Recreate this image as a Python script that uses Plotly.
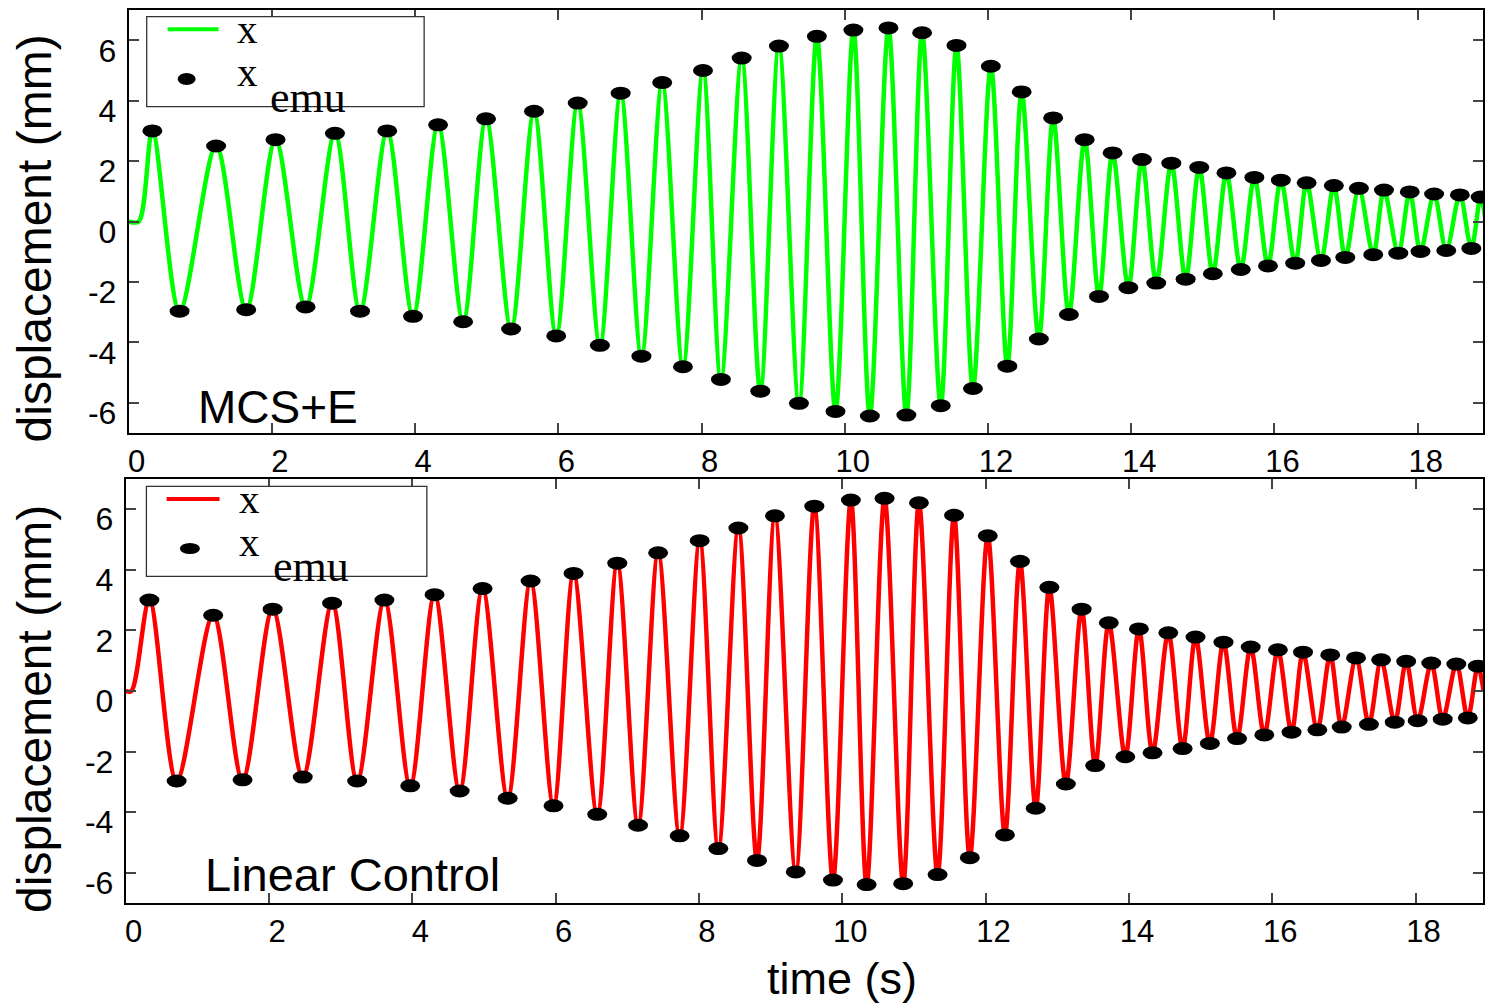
import plotly.graph_objects as go

W, H = 1485, 1003

# ---------------- data ----------------
# Top panel (MCS+E): peak / trough times (s) and displacements (mm)
top_peak_t = [0.33, 1.22, 2.05, 2.88, 3.61, 4.32, 4.99, 5.66, 6.27, 6.87, 7.45, 8.02, 8.56,
              9.08, 9.61, 10.12, 10.61, 11.08, 11.56, 12.04, 12.47, 12.91, 13.35, 13.74,
              14.15, 14.56, 14.95, 15.33, 15.72, 16.09, 16.45, 16.83, 17.18, 17.53, 17.89,
              18.23, 18.59, 18.88]
top_peak_v = [3.00, 2.50, 2.71, 2.92, 3.00, 3.20, 3.40, 3.65, 3.92, 4.25, 4.60, 5.00, 5.41,
              5.81, 6.13, 6.34, 6.41, 6.25, 5.83, 5.14, 4.29, 3.43, 2.71, 2.27,
              2.05, 1.93, 1.79, 1.61, 1.46, 1.37, 1.28, 1.19, 1.10, 1.04, 0.98,
              0.91, 0.88, 0.81]
top_trough_t = [0.71, 1.64, 2.47, 3.23, 3.97, 4.67, 5.34, 5.97, 6.58, 7.16, 7.74, 8.27, 8.82,
                9.36, 9.87, 10.35, 10.86, 11.34, 11.79, 12.27, 12.71, 13.13, 13.55, 13.96,
                14.35, 14.76, 15.14, 15.53, 15.91, 16.29, 16.65, 16.99, 17.38, 17.73, 18.04,
                18.40, 18.75]
top_trough_v = [-2.97, -2.92, -2.83, -2.97, -3.14, -3.32, -3.56, -3.79, -4.10, -4.46, -4.81,
                -5.23, -5.62, -6.02, -6.29, -6.44, -6.41, -6.10, -5.53, -4.79, -3.89, -3.08,
                -2.48, -2.19, -2.04, -1.91, -1.73, -1.59, -1.47, -1.38, -1.29, -1.19, -1.10,
                -1.05, -0.99, -0.96, -0.89]
top_start = [(0.0, 0.0), (0.14, 0.0)]
top_end = [(18.95, 0.0)]

# Bottom panel (Linear Control)
bot_peak_t = [0.33, 1.22, 2.05, 2.88, 3.61, 4.31, 4.98, 5.65, 6.25, 6.86, 7.43, 8.01, 8.55,
              9.06, 9.61, 10.12, 10.59, 11.07, 11.56, 12.03, 12.48, 12.89, 13.34, 13.72,
              14.14, 14.55, 14.93, 15.32, 15.70, 16.08, 16.43, 16.81, 17.17, 17.52, 17.87,
              18.22, 18.57, 18.87]
bot_peak_v = [3.00, 2.50, 2.70, 2.90, 3.00, 3.18, 3.38, 3.63, 3.88, 4.22, 4.56, 4.96, 5.38,
              5.78, 6.10, 6.30, 6.36, 6.21, 5.80, 5.12, 4.28, 3.42, 2.70, 2.25,
              2.05, 1.92, 1.78, 1.61, 1.45, 1.36, 1.28, 1.19, 1.09, 1.03, 0.98,
              0.92, 0.89, 0.82]
bot_trough_t = [0.71, 1.63, 2.47, 3.23, 3.97, 4.66, 5.33, 5.97, 6.58, 7.15, 7.73, 8.27, 8.81,
                9.35, 9.87, 10.34, 10.85, 11.33, 11.78, 12.27, 12.70, 13.12, 13.53, 13.95,
                14.33, 14.75, 15.13, 15.51, 15.89, 16.27, 16.63, 16.97, 17.35, 17.71, 18.03,
                18.38, 18.73]
bot_trough_v = [-2.97, -2.93, -2.84, -2.97, -3.13, -3.30, -3.54, -3.79, -4.07, -4.43, -4.78,
                -5.20, -5.59, -5.97, -6.24, -6.39, -6.36, -6.06, -5.50, -4.75, -3.87, -3.07,
                -2.46, -2.17, -2.04, -1.90, -1.73, -1.57, -1.45, -1.36, -1.28, -1.19, -1.10,
                -1.03, -0.98, -0.93, -0.89]
bot_start = [(0.0, 0.0), (0.08, 0.0)]
bot_end = [(18.95, 0.0)]

x_tick_vals = [0, 2, 4, 6, 8, 10, 12, 14, 16, 18]
x_tick_text = ["0", "2", "4", "6", "8", "10", "12", "14", "16", "18"]
y_tick_vals = [-6, -4, -2, 0, 2, 4, 6]
y_tick_text = ["-6", "-4", "-2", "0", "2", "4", "6"]

panel_labels = ["MCS+E", "Linear Control"]
line_colors = ["#00FF00", "#FF0000"]

# ---------------- helpers ----------------
def fx(p):
    return p / W


def fy(p):
    return 1 - p / H


def path(start, pt, pv, tt, tv, end):
    xs = [s[0] for s in start]
    ys = [s[1] for s in start]
    for i in range(len(pt)):
        xs.append(pt[i]); ys.append(pv[i])
        if i < len(tt):
            xs.append(tt[i]); ys.append(tv[i])
    xs += [e[0] for e in end]
    ys += [e[1] for e in end]
    return xs, ys


fig = go.Figure()
shapes = []
annotations = []

panels = [
    dict(xa="x", ya="y", start=top_start, end=top_end, pt=top_peak_t, pv=top_peak_v,
         tt=top_trough_t, tv=top_trough_v),
    dict(xa="x2", ya="y2", start=bot_start, end=bot_end, pt=bot_peak_t, pv=bot_peak_v,
         tt=bot_trough_t, tv=bot_trough_v),
]

for k, p in enumerate(panels):
    lx, ly = path(p["start"], p["pt"], p["pv"], p["tt"], p["tv"], p["end"])
    fig.add_trace(go.Scatter(x=lx, y=ly, mode="lines", name="x",
                             line=dict(color=line_colors[k], width=4.5, shape="spline", smoothing=0.9),
                             xaxis=p["xa"], yaxis=p["ya"], showlegend=False, hoverinfo="skip"))
    ex = p["pt"] + p["tt"]
    ey = p["pv"] + p["tv"]
    fig.add_trace(go.Scatter(x=ex, y=ey, mode="markers", name="x<sub>emu</sub>",
                             marker=dict(color="black", size=12, symbol="circle"),
                             xaxis=p["xa"], yaxis=p["ya"], showlegend=False))
    for xv, yv in zip(ex, ey):
        shapes.append(dict(type="circle", xref=p["xa"], yref=p["ya"],
                           xsizemode="pixel", ysizemode="pixel",
                           xanchor=xv, yanchor=yv, x0=-10, x1=10, y0=-6.5, y1=6.5,
                           fillcolor="black", line=dict(width=0), layer="above"))

# ---------------- legends (drawn like the original boxes) ----------------
legend_geo = [
    dict(box=(146, 16.7, 424, 106.7), line_y=29.3, line_x=(167, 218), mk=(177, 73, 195, 85),
         x1=(235, 28.5), x2=(235, 72), emu=(269, 97)),
    dict(box=(145.7, 486.3, 426.7, 576.3), line_y=499, line_x=(166, 219), mk=(179.3, 543, 199.3, 554),
         x1=(237, 499), x2=(237, 542), emu=(272, 566.5)),
]
serif = dict(family="Liberation Serif, Times New Roman, serif", size=41, color="black")
serif_sub = dict(family="Liberation Serif, Times New Roman, serif", size=44, color="black")
for k, g in enumerate(legend_geo):
    bx0, by0, bx1, by1 = g["box"]
    shapes.append(dict(type="rect", xref="paper", yref="paper", x0=fx(bx0), x1=fx(bx1),
                       y0=fy(by1), y1=fy(by0), line=dict(color="#333333", width=1.3),
                       fillcolor="white", layer="above"))
    shapes.append(dict(type="line", xref="paper", yref="paper", x0=fx(g["line_x"][0]),
                       x1=fx(g["line_x"][1]), y0=fy(g["line_y"]), y1=fy(g["line_y"]),
                       line=dict(color=line_colors[k], width=4), layer="above"))
    mx0, my0, mx1, my1 = g["mk"]
    shapes.append(dict(type="circle", xref="paper", yref="paper", x0=fx(mx0), x1=fx(mx1),
                       y0=fy(my1), y1=fy(my0), fillcolor="black", line=dict(width=0),
                       layer="above"))
    for key, txt, fnt in (("x1", "x", serif), ("x2", "x", serif), ("emu", "emu", serif_sub)):
        ax, ay = g[key]
        annotations.append(dict(text=txt, xref="paper", yref="paper", x=fx(ax), y=fy(ay),
                                xanchor="left", yanchor="middle", showarrow=False, font=fnt,
                                borderpad=0))

sans = "Liberation Sans, Arial, sans-serif"
# panel labels
annotations.append(dict(text=panel_labels[0], xref="paper", yref="paper", x=fx(195), y=fy(406.7),
                        xanchor="left", yanchor="middle", showarrow=False,
                        font=dict(family=sans, size=46, color="black")))
annotations.append(dict(text=panel_labels[1], xref="paper", yref="paper", x=fx(202), y=fy(874),
                        xanchor="left", yanchor="middle", showarrow=False,
                        font=dict(family=sans, size=47, color="black")))
# axis titles
for cy in (238, 708.5):
    annotations.append(dict(text="displacement (mm)", xref="paper", yref="paper", x=fx(33.5),
                            y=fy(cy), xanchor="center", yanchor="middle", textangle=-90,
                            showarrow=False, font=dict(family=sans, size=48, color="black")))
annotations.append(dict(text="time (s)", xref="x2", yref="paper", x=10, y=fy(978),
                        xanchor="center", yanchor="middle", showarrow=False,
                        font=dict(family=sans, size=45, color="black")))

common_x = dict(showline=True, linecolor="black", linewidth=2, mirror="ticks", ticks="inside",
                ticklen=10, tickwidth=1.5, tickcolor="#444444", tickvals=x_tick_vals,
                ticktext=x_tick_text, tickfont=dict(family=sans, size=31, color="black"),
                showgrid=False, zeroline=False, ticklabelshift=8, ticklabelstandoff=0)
common_y = dict(showline=True, linecolor="black", linewidth=2, mirror="ticks", ticks="inside",
                ticklen=10, tickwidth=1.5, tickcolor="#444444", tickvals=y_tick_vals,
                ticktext=y_tick_text, tickfont=dict(family=sans, size=32, color="black"),
                showgrid=False, zeroline=False, range=[-7, 7], ticklabelshift=10,
                ticklabelstandoff=4)

fig.update_layout(
    width=W, height=H, margin=dict(l=0, r=0, t=0, b=0),
    paper_bgcolor="white", plot_bgcolor="white", showlegend=False,
    xaxis=dict(domain=[fx(128), 1], range=[0, 18.913], anchor="y", **common_x),
    yaxis=dict(domain=[fy(432.9), fy(10.1)], anchor="x", **common_y),
    xaxis2=dict(domain=[fx(125), 1], range=[0, 18.942], anchor="y2", **common_x),
    yaxis2=dict(domain=[fy(903.1), fy(478.9)], anchor="x2", **common_y),
    shapes=shapes, annotations=annotations,
)

fig.write_html("out.html")
